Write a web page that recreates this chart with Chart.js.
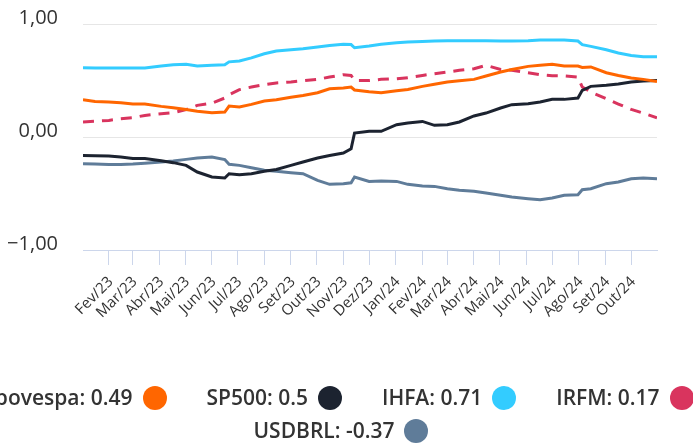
<!DOCTYPE html>
<html>
<head>
<meta charset="utf-8">
<script src="https://cdn.jsdelivr.net/npm/chart.js@4.4.0/dist/chart.umd.min.js"></script>
<style>
  html, body { margin: 0; padding: 0; background: #fff; }
  #wrap { position: relative; width: 693px; height: 444px; overflow: hidden; }
  #legend {
    position: absolute; top: 381px; left: -39px; width: 760px;
    display: flex; flex-wrap: wrap; justify-content: center; column-gap: 40px;
    font-family: 'Open Sans', sans-serif; font-weight: 600; font-size: 21px;
    color: #333; line-height: 33px;
  }
  .item { display: flex; align-items: center; white-space: nowrap; }
  .dot { display: inline-block; width: 24px; height: 24px; border-radius: 50%; margin-left: 10px; }
</style>
</head>
<body>
<div id="wrap">
  <canvas id="chart" width="693" height="444"></canvas>
  <div id="legend"></div>
</div>
<script>
const dates = [
  '2023-01-02', '2023-01-16', '2023-02-01', '2023-02-15', '2023-03-01', '2023-03-15',
  '2023-04-03', '2023-04-17', '2023-05-02', '2023-05-15', '2023-06-01', '2023-06-16',
  '2023-06-21', '2023-07-03', '2023-07-17', '2023-08-01', '2023-08-15', '2023-09-01',
  '2023-09-15', '2023-10-02', '2023-10-16', '2023-11-01', '2023-11-10', '2023-11-14',
  '2023-12-01', '2023-12-15', '2024-01-02', '2024-01-15', '2024-02-01', '2024-02-15',
  '2024-03-01', '2024-03-15', '2024-04-01', '2024-04-15', '2024-05-02', '2024-05-15',
  '2024-06-03', '2024-06-17', '2024-07-01', '2024-07-15', '2024-07-31', '2024-08-05',
  '2024-08-15', '2024-09-02', '2024-09-16', '2024-10-01', '2024-10-15', '2024-10-31'
];

const ibovespa = [0.33, 0.315, 0.31, 0.303, 0.292, 0.292, 0.271, 0.259, 0.244, 0.227, 0.215, 0.221,
  0.274, 0.265, 0.289, 0.319, 0.33, 0.352, 0.368, 0.392, 0.427, 0.434, 0.442, 0.416,
  0.40, 0.392, 0.41, 0.421, 0.448, 0.466, 0.487, 0.498, 0.51, 0.54, 0.575, 0.598,
  0.625, 0.634, 0.643, 0.628, 0.628, 0.616, 0.62, 0.569, 0.545, 0.522, 0.51, 0.49];

const sp500 = [-0.163, -0.165, -0.168, -0.177, -0.19, -0.19, -0.21, -0.227, -0.251, -0.31, -0.354, -0.363,
  -0.325, -0.334, -0.325, -0.304, -0.287, -0.251, -0.221, -0.186, -0.163, -0.142, -0.104, 0.035,
  0.05, 0.05, 0.109, 0.124, 0.138, 0.103, 0.109, 0.133, 0.186, 0.212, 0.257, 0.286,
  0.295, 0.31, 0.333, 0.333, 0.345, 0.413, 0.448, 0.457, 0.469, 0.487, 0.496, 0.5];

const ihfa = [0.613, 0.61, 0.61, 0.61, 0.61, 0.61, 0.628, 0.64, 0.643, 0.628, 0.634, 0.64,
  0.665, 0.672, 0.7, 0.737, 0.761, 0.772, 0.78, 0.796, 0.81, 0.82, 0.818, 0.79,
  0.805, 0.82, 0.835, 0.84, 0.846, 0.849, 0.852, 0.852, 0.852, 0.852, 0.849, 0.849,
  0.852, 0.858, 0.858, 0.858, 0.849, 0.817, 0.802, 0.772, 0.743, 0.722, 0.711, 0.71];

const irfm = [0.133, 0.14, 0.147, 0.162, 0.171, 0.191, 0.206, 0.215, 0.242, 0.28, 0.3, 0.345,
  0.374, 0.419, 0.442, 0.463, 0.478, 0.487, 0.498, 0.51, 0.531, 0.551, 0.545, 0.50,
  0.50, 0.51, 0.516, 0.525, 0.545, 0.56, 0.575, 0.59, 0.604, 0.634, 0.598, 0.59,
  0.569, 0.551, 0.542, 0.54, 0.53, 0.442, 0.398, 0.339, 0.292, 0.244, 0.212, 0.17];

const usdbrl = [-0.236, -0.24, -0.244, -0.244, -0.24, -0.233, -0.221, -0.212, -0.198, -0.186, -0.177, -0.2,
  -0.242, -0.251, -0.272, -0.295, -0.304, -0.316, -0.325, -0.384, -0.419, -0.413, -0.405, -0.354,
  -0.393, -0.39, -0.393, -0.419, -0.434, -0.437, -0.458, -0.472, -0.481, -0.496, -0.516, -0.531,
  -0.546, -0.555, -0.54, -0.516, -0.511, -0.467, -0.458, -0.413, -0.398, -0.369, -0.363, -0.37];

const xTickDates = [
  '2023-02-01', '2023-03-01', '2023-04-01', '2023-05-01', '2023-06-01', '2023-07-01',
  '2023-08-01', '2023-09-01', '2023-10-01', '2023-11-01', '2023-12-01', '2024-01-01',
  '2024-02-01', '2024-03-01', '2024-04-01', '2024-05-01', '2024-06-01', '2024-07-01',
  '2024-08-01', '2024-09-01', '2024-10-01'
];
const xTickLabels = [
  'Fev/23', 'Mar/23', 'Abr/23', 'Mai/23', 'Jun/23', 'Jul/23', 'Ago/23', 'Set/23', 'Out/23',
  'Nov/23', 'Dez/23', 'Jan/24', 'Fev/24', 'Mar/24', 'Abr/24', 'Mai/24', 'Jun/24', 'Jul/24',
  'Ago/24', 'Set/24', 'Out/24'
];
const yTicks = [-1, 0, 1];

const series = [
  { name: 'Ibovespa', data: ibovespa, color: '#ff6600' },
  { name: 'SP500', data: sp500, color: '#1c2330' },
  { name: 'IHFA', data: ihfa, color: '#33ccff' },
  { name: 'IRFM', data: irfm, color: '#d9345e', dash: [11, 8] },
  { name: 'USDBRL', data: usdbrl, color: '#5f7c99' }
];

const times = dates.map(d => Date.parse(d));

const ctx = document.getElementById('chart').getContext('2d');
const chart = new Chart(ctx, {
  type: 'line',
  data: {
    datasets: series.map(s => ({
      label: s.name,
      data: s.data.map((v, i) => ({ x: times[i], y: v })),
      borderColor: s.color,
      backgroundColor: s.color,
      borderWidth: 3,
      borderDash: s.dash || [],
      pointRadius: 0,
      tension: 0
    }))
  },
  options: {
    responsive: false,
    animation: false,
    devicePixelRatio: 1,
    layout: { padding: { top: 24, right: 36, left: 0, bottom: 0 } },
    plugins: {
      legend: { display: false },
      tooltip: { enabled: false }
    },
    scales: {
      x: {
        type: 'linear',
        min: times[0],
        max: times[times.length - 1],
        afterBuildTicks: scale => {
          scale.ticks = xTickDates.map(d => ({ value: Date.parse(d) }));
        },
        afterFit: scale => { scale.height = 194; },
        ticks: {
          autoSkip: false,
          minRotation: 45,
          maxRotation: 45,
          padding: 8,
          labelOffset: 2,
          color: '#333',
          font: { family: 'Open Sans', size: 15 },
          callback: (value, index) => xTickLabels[index]
        },
        grid: { drawOnChartArea: false, drawTicks: true, tickLength: 15, color: '#ccd6eb' },
        border: { color: '#ccd6eb' }
      },
      y: {
        min: -1,
        max: 1,
        afterBuildTicks: scale => {
          scale.ticks = yTicks.map(v => ({ value: v }));
        },
        afterFit: scale => {
          scale.width = 83;
          // the label gap should not push the plot down
          scale.paddingTop = 0;
          scale.paddingBottom = 0;
        },
        ticks: {
          padding: 25,
          labelOffset: -6,
          color: '#333',
          font: { family: 'Open Sans', size: 20 },
          callback: value => value.toFixed(2).replace('.', ',').replace('-', '\u2212')
        },
        grid: { color: '#e6e6e6', drawTicks: false },
        border: { display: false }
      }
    }
  }
});

// legend below the chart, text first then the coloured dot
const legend = document.getElementById('legend');
series.forEach(s => {
  const item = document.createElement('div');
  item.className = 'item';
  const label = document.createElement('span');
  label.textContent = s.name + ': ' + s.data[s.data.length - 1];
  const dot = document.createElement('span');
  dot.className = 'dot';
  dot.style.background = s.color;
  item.appendChild(label);
  item.appendChild(dot);
  legend.appendChild(item);
});
</script>
</body>
</html>
